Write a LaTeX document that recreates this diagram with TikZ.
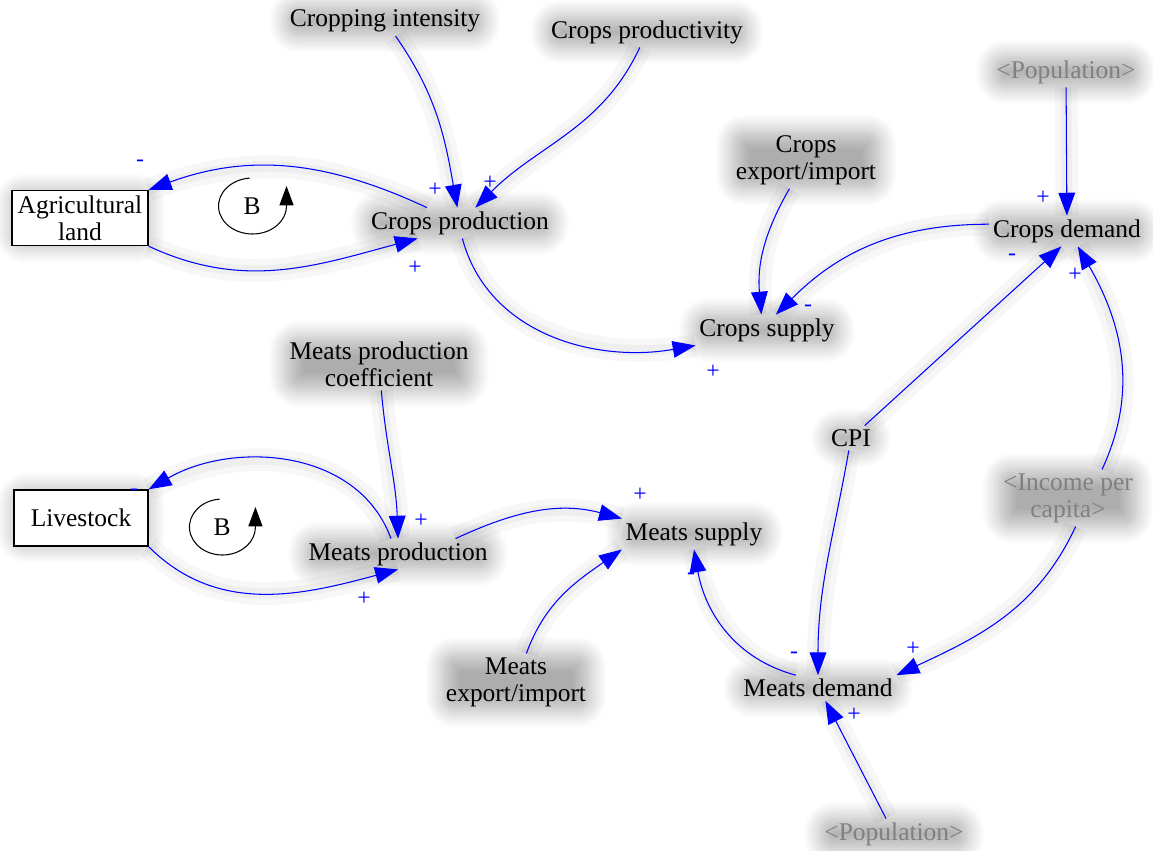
\documentclass[tikz,border=0pt]{standalone}
\usepackage{fontspec}
\setmainfont{Liberation Serif}
\usetikzlibrary{arrows.meta,shadows.blur}
\tikzset{
  var/.style={align=center,inner sep=2pt,font=\fontsize{14.5}{15.5}\selectfont,
    blur shadow={shadow xshift=0pt,shadow yshift=0pt,shadow blur radius=10pt,
      shadow blur steps=12,shadow blur extra rounding=7pt,shadow opacity=32}},
  ghost/.style={var,text=black!50},
  stock/.style={var,draw,thick,fill=white},
  link/.style={blue,semithick,-{Triangle[length=13pt,width=9.5pt]},
    preaction={draw=black,line width=13pt,opacity=0.03,-},
    preaction={draw=black,line width=6pt,opacity=0.035,-}},
  sign/.style={blue,inner sep=0pt,font=\fontsize{13.5}{13.5}\selectfont},
  looparrow/.style={semithick,-{Triangle[length=11pt,width=8pt]}}
}
\begin{document}
\begin{tikzpicture}[x=0.02cm,y=0.02cm]
     \useasboundingbox (0,0) rectangle (1153,-850);

     \node[var] (cint) at (385,-21) {Cropping intensity};
     \node[var] (cprod) at (647,-32) {Crops productivity};
     \node[stock,minimum width=2.72cm,minimum height=1.1cm] (land) at (80,-218) {Agricultural\\land};
     \node[var] (cpro) at (460,-223) {Crops production};
     \node[var] (cexp) at (806,-160) {Crops\\export/import};
     \node[ghost] (pop1) at (1066,-72) {<Population>};
     \node[var] (cdem) at (1067,-231) {Crops demand};
     \node[var] (csup) at (767,-330) {Crops supply};

     \node[var] (mcoef) at (379,-364) {Meats production\\coefficient};
     \node[var] (cpi) at (851,-438) {CPI};
     \node[ghost] (inc) at (1068,-498) {<Income per\\capita>};
     \node[stock,minimum width=2.68cm,minimum height=1.12cm] (live) at (81,-518) {Livestock};
     \node[var] (mpro) at (398,-554) {Meats production};
     \node[var] (msup) at (694,-534) {Meats supply};
     \node[var] (mexp) at (516,-682) {Meats\\export/import};
     \node[var] (mdem) at (818,-688) {Meats demand};
     \node[ghost] (pop2) at (894,-834) {<Population>};

     \node[font=\fontsize{14.5}{15.5}\selectfont] (b1) at (252,-206) {B};
     \draw[looparrow] (b1.center) ++(95:0.56cm) arc[start angle=95,end angle=360,x radius=0.68cm,y radius=0.56cm] -- ++(0,0.4cm);
     \node[font=\fontsize{14.5}{15.5}\selectfont] (b2) at (222,-527) {B};
     \draw[looparrow] (b2.center) ++(95:0.56cm) arc[start angle=95,end angle=360,x radius=0.66cm,y radius=0.56cm] -- ++(0,0.4cm);

     \draw[link] (cint) to[out=-55,in=100] (cpro);
     \draw[link] (cprod) to[out=-115,in=45] (cpro);
     \draw[link] (cpro.155) to[out=155,in=20] (land.north east);
     \draw[link] (land.south east) to[out=-25,in=195] (cpro.200);
     \draw[link] (cpro.south west) ++(95,0) to[out=-75,in=190] (csup.south west);
     \draw[link] (cexp) to[out=-120,in=95] (csup.110);
     \draw[link] (cdem.175) to[out=180,in=45] (csup.60);
     \draw[link] (pop1) -- (cdem);
     \draw[link] (cpi) -- (cdem.250);
     \draw[link] (inc.40) to[out=65,in=-60] (cdem.305);

     \draw[link] (mcoef) to[out=-85,in=92] (mpro.north);
     \draw[link] (mpro.north) ++(-7,0) to[out=110,in=30] (live.north east);
     \draw[link] (live.south east) to[out=-45,in=195] (mpro.south);
     \draw[link] (mpro.15) to[out=25,in=165] (msup.north west);
     \draw[link] (mexp) to[out=70,in=215] (msup.south west);
     \draw[link] (mdem.150) to[out=165,in=-80] (msup.south);
     \draw[link] (cpi) to[out=-100,in=90] (mdem);
     \draw[link] (inc.-75) to[out=-115,in=25] (mdem.north east);
     \draw[link] (pop2) -- (mdem.-60);

     \node[sign] (s1) at (435,-190) {+};
     \node[sign] (s2) at (490,-183) {+};
     \node[sign] (s3) at (140,-163) {-};
     \node[sign] (s4) at (415,-268) {+};
     \node[sign] (s5) at (713,-372) {+};
     \node[sign] (s6) at (808,-308) {-};
     \node[sign] (s7) at (1043,-198) {+};
     \node[sign] (s8) at (1012,-257) {-};
     \node[sign] (s9) at (1075,-275) {+};
     \node[sign] (s10) at (421,-521) {+};
     \node[sign] (s11) at (134,-492) {-};
     \node[sign] (s12) at (364,-599) {+};
     \node[sign] (s13) at (640,-495) {+};
     \node[sign] (s14) at (691,-576) {-};
     \node[sign] (s15) at (794,-655) {-};
     \node[sign] (s16) at (913,-649) {+};
     \node[sign] (s17) at (854,-715) {+};
    \end{tikzpicture}
\end{document}
